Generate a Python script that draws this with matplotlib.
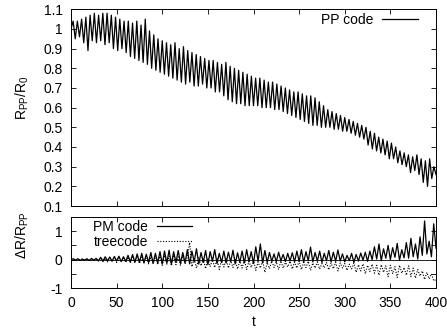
import numpy as np
import matplotlib
matplotlib.use("Agg")
import matplotlib.pyplot as plt
from matplotlib.ticker import FuncFormatter, MultipleLocator

plt.rcParams['font.family'] = ['Liberation Sans', 'DejaVu Sans']
FS = 10
plt.rcParams['font.size'] = FS

# ---------------- data ----------------
pp_ratio = [
    1.00, 1.04, 0.95, 1.04, 0.96, 1.05, 0.93, 1.06, 0.89, 1.07, 0.94, 1.08, 0.93, 1.07, 0.94, 1.08, 0.92, 1.08,
    0.93, 1.07, 0.90, 1.06, 0.89, 1.05, 0.90, 1.04, 0.88, 1.04, 0.86, 1.03, 0.85, 1.04, 0.84, 1.02, 0.83, 1.05,
    0.82, 0.99, 0.80, 0.97, 0.79, 0.95, 0.78, 0.94, 0.77, 0.93, 0.76, 0.92, 0.75, 0.93, 0.74, 0.90, 0.73, 0.91,
    0.72, 0.89, 0.73, 0.88, 0.71, 0.87, 0.71, 0.86, 0.72, 0.85, 0.70, 0.84, 0.70, 0.84, 0.68, 0.83, 0.68, 0.82,
    0.66, 0.83, 0.64, 0.81, 0.63, 0.80, 0.62, 0.79, 0.62, 0.78, 0.61, 0.77, 0.61, 0.76, 0.61, 0.75, 0.61, 0.75,
    0.60, 0.74, 0.60, 0.73, 0.60, 0.73, 0.59, 0.72, 0.59, 0.71, 0.58, 0.70, 0.57, 0.69, 0.56, 0.68, 0.55, 0.68,
    0.54, 0.67, 0.53, 0.66, 0.52, 0.66, 0.51, 0.65, 0.51, 0.63, 0.50, 0.61, 0.50, 0.59, 0.50, 0.58, 0.49, 0.57,
    0.49, 0.56, 0.48, 0.55, 0.48, 0.54, 0.47, 0.53, 0.46, 0.52, 0.45, 0.51, 0.44, 0.50, 0.41, 0.48, 0.39, 0.47,
    0.38, 0.45, 0.37, 0.44, 0.36, 0.43, 0.34, 0.42, 0.34, 0.40, 0.32, 0.38, 0.31, 0.37, 0.30, 0.36, 0.27, 0.35,
    0.28, 0.36, 0.26, 0.34, 0.22, 0.33, 0.20, 0.34, 0.24, 0.30, 0.26,
]

pm_diff = [
    0.00, 0.03, -0.02, 0.03, -0.03, 0.02, -0.02, 0.03, -0.03, 0.04, -0.02, 0.04,
    -0.04, 0.08, -0.05, 0.10, -0.04, 0.09, -0.06, 0.11, -0.05, 0.12, -0.07, 0.10, -0.06,
    0.15, -0.08, 0.18, -0.10, 0.20, -0.09, 0.22, -0.12, 0.19, -0.10, 0.25, -0.13, 0.22, -0.12, 0.28,
    -0.15, 0.30, -0.12, 0.33, -0.16, 0.28, -0.10, 0.32, -0.14, 0.25, -0.12, 0.35,
    -0.15, 0.30, -0.08, 0.38, -0.16, 0.25, -0.10, 0.32, -0.18, 0.28, -0.06, 0.35, -0.14,
    0.22, -0.10, 0.30, -0.12, 0.26, -0.08, 0.33, -0.15, 0.24, -0.10,
    0.30, -0.12, 0.35, -0.08, 0.28, -0.14, 0.45, -0.06, 0.55, -0.12, 0.32, -0.10,
    0.25, -0.06, 0.20, -0.08, 0.26, -0.04, 0.18, -0.07, 0.22, -0.05, 0.24, -0.08, 0.30,
    -0.06, 0.35, -0.10, 0.28, -0.04, 0.44, -0.08, 0.25, -0.05, 0.30, -0.10, 0.22, -0.04,
    0.32, -0.08, 0.26, -0.06, 0.34, -0.05,
    0.20, -0.08, 0.15, -0.04, 0.22, -0.10, 0.18, -0.05, 0.23, -0.02, 0.26, -0.06, 0.30, 0.00,
    0.45, 0.02, 0.55, -0.04, 0.38, 0.05, 0.50, 0.00, 0.42, 0.08, 0.57, -0.02, 0.35, 0.06, 0.60,
    0.05, 0.75, 0.10, 0.55, 0.02, 0.80, 0.15, 1.36, 0.20, 0.65, 0.10, 1.26, 0.40,
]

tree_diff = [
    0.00, 0.02, -0.02, 0.02, -0.01, 0.02, -0.02, 0.01, -0.03, 0.03, -0.02, 0.03,
    -0.05, 0.06, -0.07, 0.05, -0.08, 0.08, -0.06, 0.07, -0.10, 0.06, -0.08, 0.09, -0.10,
    0.08, -0.12, 0.10, -0.10, 0.12, -0.14, 0.09, -0.12, 0.13, -0.15, 0.10, -0.13, 0.14, -0.18, 0.12,
    -0.20, 0.15, -0.16, 0.12, -0.22, 0.16, -0.18, 0.10, -0.20, 0.14, -0.15, 0.08,
    0.60, -0.25, 0.05, -0.30, 0.08, -0.22, 0.02, -0.32, 0.06, -0.25, 0.00, -0.28, 0.04,
    -0.35, -0.02, -0.26, 0.03, -0.30, -0.04, -0.28, 0.00, -0.33, -0.05,
    -0.30, 0.00, -0.35, -0.06, -0.28, -0.02, -0.38, -0.08, -0.30, -0.03, -0.45, -0.10,
    -0.32, -0.05, -0.28, -0.08, -0.35, -0.04, -0.30, -0.10, -0.26, -0.06, -0.33, -0.08, -0.30,
    -0.05, -0.35, -0.10, -0.28, -0.06, -0.38, -0.12, -0.30, -0.08, -0.34, -0.14, -0.29, -0.10,
    -0.36, -0.12, -0.32, -0.09, -0.40, -0.12,
    -0.30, -0.14, -0.38, -0.16, -0.33, -0.12, -0.45, -0.18, -0.40, -0.15, -0.50, -0.20, -0.42, -0.16,
    -0.48, -0.20, -0.55, -0.18, -0.45, -0.22, -0.60, -0.20, -0.50, -0.25, -0.63, -0.20, -0.48, -0.28, -0.55,
    -0.22, -0.60, -0.30, -0.65, -0.35, -0.58, -0.40, -0.70, -0.45, -0.68, -0.50, -0.75, -0.70,
]

t_start, t_end = 0, 400
x_ticks = [0, 50, 100, 150, 200, 250, 300, 350, 400]

t_pp = np.linspace(t_start, t_end, len(pp_ratio))
t_pm = np.linspace(t_start, t_end, len(pm_diff))
t_tree = np.linspace(t_start, t_end, len(tree_diff))

# ---------------- figure ----------------
W, H = 447, 330
fig = plt.figure(figsize=(W / 100, H / 100), dpi=100)

def frac_box(x0, y0, x1, y1):
    return [x0 / W, 1 - y1 / H, (x1 - x0) / W, (y1 - y0) / H]

ax1 = fig.add_axes(frac_box(71, 9.3, 436, 206))
ax2 = fig.add_axes(frac_box(71, 217, 436, 288))

for ax in (ax1, ax2):
    ax.tick_params(direction='in', top=True, right=True, length=3.5, width=0.6,
                   labelsize=FS, pad=6)
    for s in ax.spines.values():
        s.set_linewidth(0.7)
    ax.set_xlim(t_start, t_end)
    ax.set_xticks(x_ticks)

def fmt_top(v, p):
    if abs(v - round(v)) < 1e-6:
        return f"{int(round(v))}"
    return f"{v:.1f}"

# top panel
ax1.plot(t_pp, pp_ratio, color='black', lw=0.9, label='PP code')
ax1.set_ylim(0.1, 1.1)
ax1.yaxis.set_major_locator(MultipleLocator(0.1))
ax1.yaxis.set_major_formatter(FuncFormatter(fmt_top))
ax1.tick_params(labelbottom=False)
ax1.legend(loc='upper right', bbox_to_anchor=(0.951, 0.982), frameon=False,
           markerfirst=False, handlelength=2.6, handletextpad=0.65,
           borderaxespad=0, borderpad=0, fontsize=FS)

# bottom panel
ax2.axhline(0, color='black', lw=0.6)
ax2.plot(t_pm, pm_diff, color='black', lw=0.9, label='PM code')
ax2.plot(t_tree, tree_diff, color='black', lw=0.8, ls=(0, (1, 1.5)), label='treecode')
ax2.set_ylim(-1, 1.5)
ax2.set_yticks([-1, -0.5, 0, 0.5, 1])
ax2.yaxis.set_major_formatter(FuncFormatter(lambda v, p: f"{int(round(v))}" if abs(v - round(v)) < 1e-6 else ""))
ax2.legend(loc='upper left', bbox_to_anchor=(0.06, 0.955), frameon=False,
           markerfirst=False, handlelength=2.45, handletextpad=0.7,
           borderaxespad=0, borderpad=0, labelspacing=0.05, fontsize=FS)

fig.text(22 / W, 1 - 98 / H, r'R$_\mathregular{PP}$/R$_\mathregular{0}$',
         rotation=90, ha='center', va='center', fontsize=FS)
fig.text(22 / W, 1 - 235 / H, r'ΔR/R$_\mathregular{PP}$',
         rotation=90, ha='center', va='center', fontsize=FS)
fig.text(253.5 / W, 1 - 322 / H, 't', ha='center', va='center', fontsize=FS)

fig.savefig('out.png', dpi=100)
